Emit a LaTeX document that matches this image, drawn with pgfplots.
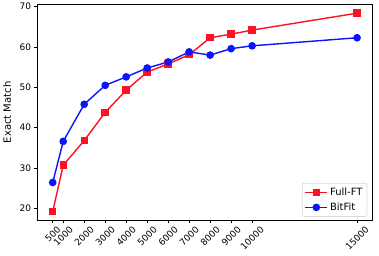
\documentclass[border=0pt]{standalone}
\usepackage{pgfplots}
\pgfplotsset{compat=1.18}
\usepackage{fontspec}
\setmainfont{DejaVu Sans}
\definecolor{ftred}{RGB}{255,16,36}
\definecolor{bfblue}{RGB}{10,20,255}
\newcommand{\rl}[1]{\rotatebox{45}{#1}}
\begin{document}
\begin{tikzpicture}
\begin{axis}[
  name=ax,
  scale only axis,
  width=334.8bp, height=215.3bp,
  xmin=-225, xmax=15725,
  ymin=17.1, ymax=70.5,
  scaled ticks=false,
  xtick={500,1000,2000,3000,4000,5000,6000,7000,8000,9000,10000,15000},
  xticklabels={\rl{500},\rl{1000},\rl{2000},\rl{3000},\rl{4000},\rl{5000},\rl{6000},\rl{7000},\rl{8000},\rl{9000},\rl{10000},\rl{15000}},
  xticklabel style={anchor=north, inner sep=0pt, yshift=-2.5bp},
  ytick={20,30,40,50,60,70},
  yticklabel style={inner sep=0pt, xshift=-3bp},
  /pgf/number format/assume math mode=true,
  tick style={black, line width=0.7bp},
  tick align=outside,
  major tick length=3.2bp,
  xtick pos=bottom, ytick pos=left,
  axis line style={black, line width=0.7bp},
  ylabel={Exact Match},
  ylabel style={at={(axis description cs:-0.091,0.5)}, anchor=center, inner sep=0pt},
  ticklabel style={font=\fontsize{9bp}{11bp}\selectfont},
  label style={font=\fontsize{10bp}{12bp}\selectfont},
  legend style={draw=black!15, rounded corners=2bp, line width=0.7bp, inner sep=2.5bp, at={(0.985,0.015)}, anchor=south east, row sep=2bp, font=\fontsize{10bp}{12bp}\selectfont},
  legend cell align=left,
  legend image code/.code={\draw[mark repeat=2,mark phase=2,#1,line width=1.4bp] plot coordinates {(0bp,0bp) (11bp,0bp) (22bp,0bp)};},
]
\addplot[ftred, line width=1.4bp, mark=square*, mark size=3bp, mark options={solid, fill=ftred}] coordinates {
(500,19.2) (1000,30.7) (2000,36.8) (3000,43.8) (4000,49.3) (5000,53.8) (6000,55.8) (7000,58.1) (8000,62.3) (9000,63.2) (10000,64.2) (15000,68.4)};
\addlegendentry{Full-FT}
\addplot[bfblue, line width=1.4bp, mark=*, mark size=3.1bp, mark options={solid, fill=bfblue}] coordinates {
(500,26.4) (1000,36.6) (2000,45.8) (3000,50.5) (4000,52.6) (5000,54.8) (6000,56.3) (7000,58.8) (8000,58.0) (9000,59.6) (10000,60.3) (15000,62.3)};
\addlegendentry{BitFit}
\end{axis}
\useasboundingbox ([shift={(-37.5bp,-36bp)}]ax.south west) rectangle ([shift={(6.7bp,4.7bp)}]ax.north east);
\end{tikzpicture}
\end{document}
